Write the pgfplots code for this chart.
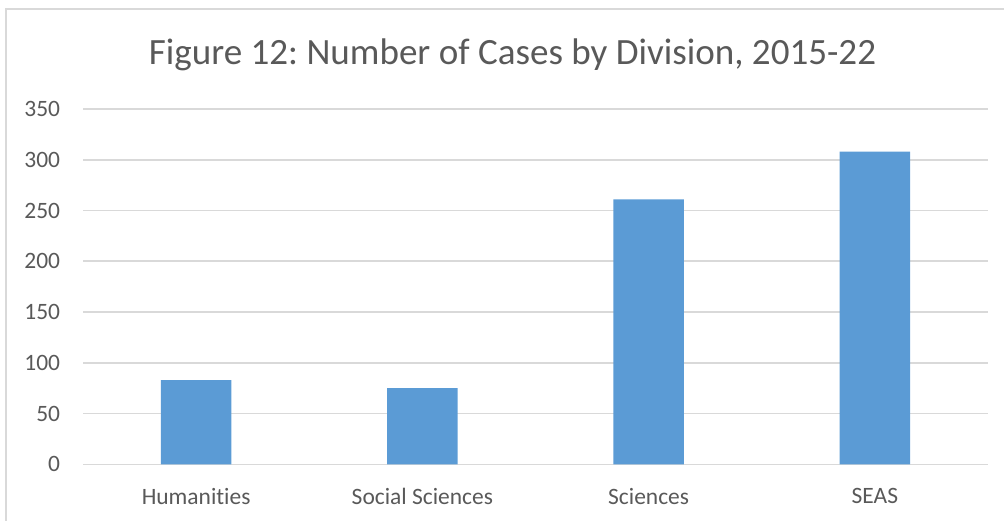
\documentclass[border=0pt]{standalone}
\usepackage{fontspec}
\setmainfont{Carlito}[Ligatures=NoCommon]
\usepackage{pgfplots}
\pgfplotsset{compat=1.18}
\definecolor{barblue}{HTML}{5B9BD5}
\definecolor{txtgray}{HTML}{595959}
\definecolor{gridgray}{HTML}{D9D9D9}
\frenchspacing
\begin{document}
\begin{tikzpicture}
\useasboundingbox (0pt,0pt) rectangle (753pt,390.75pt);
% chart frame (right and bottom edges are cut off in the reference)
\draw[gridgray, line width=1.2pt] (4.5pt,0pt) -- (4.5pt,384pt) -- (753pt,384pt);
\node[anchor=base, text=txtgray, inner sep=0pt, font=\fontsize{27.8pt}{32pt}\selectfont]
  at (384.4pt,342pt) {Figure 12: Number of Cases by Division, 2015-22};
\begin{axis}[
    at={(62.25pt,42.5pt)}, anchor=south west,
    scale only axis, width=678.75pt, height=266.5pt,
    ybar, bar width=53pt,
    xmin=-0.5, xmax=3.5, ymin=0, ymax=350,
    enlargelimits=false,
    xtick={0,1,2,3},
    xticklabels={Humanities,Social Sciences,Sciences,SEAS},
    ytick={0,50,...,350},
    ymajorgrids,
    major grid style={gridgray, line width=1.2pt},
    axis line style={draw=none},
    major tick length=0pt,
    tick label style={font=\fontsize{17.6pt}{20pt}\selectfont, text=txtgray, inner sep=0pt},
    xticklabel shift=18pt,
    yticklabel shift=17pt,
    /pgf/number format/assume math mode=true,
  ]
  \addplot[fill=barblue, draw=none] coordinates {(0,83) (1,75) (2,261) (3,308)};
\end{axis}
\end{tikzpicture}
\end{document}
